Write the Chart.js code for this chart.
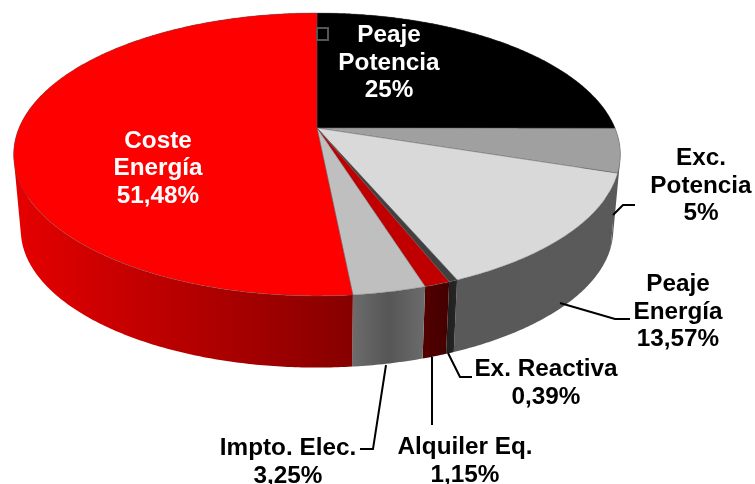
<!DOCTYPE html>
<html>
<head>
<meta charset="utf-8">
<style>
  html, body { margin: 0; padding: 0; background: #fff; }
  canvas { display: block; }
</style>
<script src="https://cdn.jsdelivr.net/npm/chart.js@4"></script>
</head>
<body>
<canvas id="myChart" width="755" height="484"></canvas>
<script>
// Chart data, clockwise from 12 o'clock
const categories = ['Peaje Potencia', 'Exc. Potencia', 'Peaje Energía', 'Ex. Reactiva', 'Alquiler Eq.', 'Impto. Elec.', 'Coste Energía'];
const values = [25, 5, 13.57, 0.39, 1.15, 3.25, 51.48];

// Slice colours: top face, then side wall gradient stops (left to right)
const topColors = ['#000000', '#a0a0a0', '#d9d9d9', '#404040', '#c00000', '#bfbfbf', '#ff0000'];
const wallColors = [
  ['#000000', '#000000'],
  ['#595959', '#595959'],
  ['#595959', '#5a5a5a'],
  ['#1f1f1f', '#262626'],
  ['#520000', '#440000'],
  ['#6c6c6c', '#565656', '#6c6c6c'],
  ['#e60000', '#860000']
];

// Perspective of the pie: top rim and bottom rim of the disc
const topRim = { x: 317, y: 128, rx: 298, ry: 136.5, k: -0.187 };
const bottomRim = { x: 317, y: 204, rx: 291, ry: 133, k: -0.187 };

// Label placement (centre x, first line y) per category
const labelLines = [['Peaje', 'Potencia'], ['Exc.', 'Potencia'], ['Peaje', 'Energía'], ['Ex. Reactiva'], ['Alquiler Eq.'], ['Impto. Elec.'], ['Coste', 'Energía']];
const labelPos = [[389, 35.5], [701, 158.5], [678, 284.5], [546, 369.5], [465, 447.5], [288, 448.5], [158, 141]];
const labelColor = ['#fff', '#000', '#000', '#000', '#000', '#000', '#fff'];
const leaders = [
  null,
  [[613, 215], [623, 205], [635, 205]],
  [[560, 303], [615, 319], [630, 319]],
  [[448, 353], [460, 377], [472, 377]],
  [[432, 357], [432, 425]],
  [[386, 365], [373, 449], [360, 449]],
  null
];

function project(rim, a) {
  const d = 1 + rim.k * Math.sin(a);
  return [rim.x + rim.rx * Math.cos(a) / d, rim.y + rim.ry * Math.sin(a) / d];
}

function arcPoints(rim, a0, a1) {
  const n = Math.max(2, Math.ceil((a1 - a0) / 0.01));
  const pts = [];
  for (let i = 0; i <= n; i++) pts.push(project(rim, a0 + (a1 - a0) * i / n));
  return pts;
}

function addPolygon(ctx, pts) {
  pts.forEach((p, i) => i ? ctx.lineTo(p[0], p[1]) : ctx.moveTo(p[0], p[1]));
  ctx.closePath();
}

// signed area, used to give all wall quads the same winding
function area(pts) {
  let sum = 0;
  pts.forEach((p, i) => {
    const q = pts[(i + 1) % pts.length];
    sum += p[0] * q[1] - q[0] * p[1];
  });
  return sum;
}

// Draws the arcs the pie controller computed, through the perspective above
const pie3d = {
  id: 'pie3d',
  beforeDatasetsDraw(chart) {
    const ctx = chart.ctx;
    const arcs = chart.getDatasetMeta(0).data;

    // side walls first, one path per slice so the quads leave no seams
    arcs.forEach((arc, i) => {
      const top = arcPoints(topRim, arc.startAngle, arc.endAngle);
      const bottom = arcPoints(bottomRim, arc.startAngle, arc.endAngle);
      const xs = top.concat(bottom).map(p => p[0]);
      const g = ctx.createLinearGradient(Math.min(...xs), 0, Math.max(...xs), 0);
      wallColors[i].forEach((c, j) => g.addColorStop(j / (wallColors[i].length - 1), c));
      ctx.beginPath();
      for (let s = 0; s < top.length - 1; s++) {
        const quad = [top[s], top[s + 1], bottom[s + 1], bottom[s]];
        addPolygon(ctx, area(quad) < 0 ? quad.reverse() : quad);
      }
      ctx.fillStyle = g;
      ctx.fill();
    });

    // top faces
    arcs.forEach((arc, i) => {
      const pts = [[topRim.x, topRim.y]].concat(arcPoints(topRim, arc.startAngle, arc.endAngle));
      ctx.beginPath();
      addPolygon(ctx, pts);
      ctx.fillStyle = topColors[i];
      ctx.fill();
      ctx.strokeStyle = 'rgba(89,89,89,0.5)';
      ctx.lineWidth = 0.8;
      ctx.stroke();
    });

    // leader lines
    ctx.strokeStyle = '#000';
    ctx.lineWidth = 2;
    leaders.forEach(line => {
      if (!line) return;
      ctx.beginPath();
      line.forEach((p, i) => i ? ctx.lineTo(p[0], p[1]) : ctx.moveTo(p[0], p[1]));
      ctx.stroke();
    });

    // little handle left in the original picture
    ctx.strokeStyle = '#555';
    ctx.lineWidth = 2;
    ctx.strokeRect(317, 28, 11, 12);

    // labels
    ctx.font = 'bold 24.3px "Liberation Sans", Arial, sans-serif';
    ctx.textAlign = 'center';
    ctx.textBaseline = 'middle';
    values.forEach((v, i) => {
      const lines = labelLines[i].concat(String(v).replace('.', ',') + '%');
      ctx.fillStyle = labelColor[i];
      lines.forEach((t, j) => ctx.fillText(t, labelPos[i][0], labelPos[i][1] + j * 27.5));
    });
    return false;
  }
};

new Chart(document.getElementById('myChart').getContext('2d'), {
  type: 'pie',
  data: {
    labels: categories,
    datasets: [{ data: values, backgroundColor: topColors }]
  },
  options: {
    responsive: false,
    animation: false,
    plugins: { legend: { display: false }, tooltip: { enabled: false } }
  },
  plugins: [pie3d]
});
</script>
</body>
</html>
